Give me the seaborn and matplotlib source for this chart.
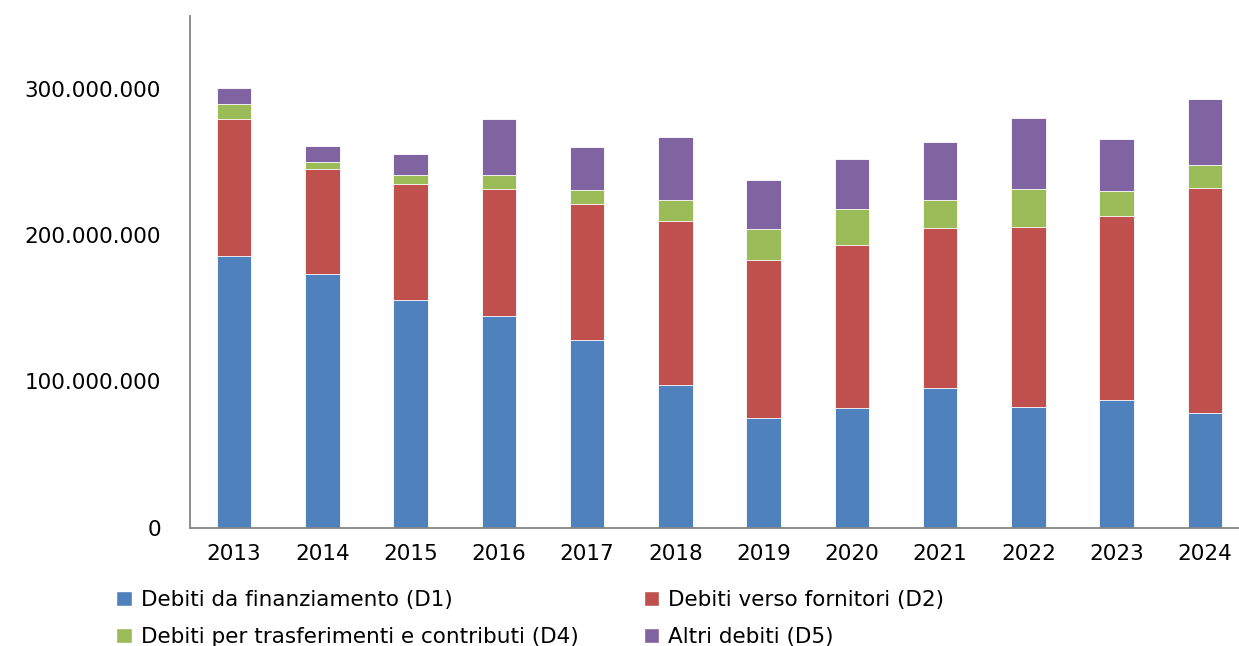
import pandas as pd
import numpy as np
import matplotlib
matplotlib.use('Agg')
import matplotlib.pyplot as plt
import seaborn as sns
from matplotlib.patches import Patch
from matplotlib.ticker import FuncFormatter

years = ['2013', '2014', '2015', '2016', '2017', '2018',
         '2019', '2020', '2021', '2022', '2023', '2024']
# values in millions of euro
d1 = [185.9, 173.4, 155.6, 144.4, 128.3, 97.7, 75.0, 81.8, 95.5, 82.2, 87.3, 78.6]
d2 = [93.7, 72.2, 79.3, 87.5, 93.4, 111.7, 108.2, 111.2, 109.3, 123.3, 125.7, 153.6]
d4 = [10.4, 4.8, 6.2, 9.4, 9.3, 14.8, 21.0, 25.0, 19.4, 26.0, 17.3, 15.7]
d5 = [11.0, 10.9, 14.5, 38.0, 29.4, 42.8, 33.5, 34.2, 39.4, 48.7, 35.4, 45.1]

labels = ['Debiti da finanziamento (D1)', 'Debiti verso fornitori (D2)',
          'Debiti per trasferimenti e contributi (D4)', 'Altri debiti (D5)']
colors = ['#4F81BD', '#C0504D', '#9BBB59', '#8064A2']

df = pd.DataFrame({'Anno': years, 'D1': d1, 'D2': d2, 'D4': d4, 'D5': d5})
df[['D1', 'D2', 'D4', 'D5']] *= 1e6
# cumulative heights, drawn from the top layer down
df['c1'] = df['D1']
df['c2'] = df['c1'] + df['D2']
df['c4'] = df['c2'] + df['D4']
df['c5'] = df['c4'] + df['D5']

sns.set_theme(style='white')
plt.rcParams['font.family'] = ['DejaVu Sans']

fig = plt.figure(figsize=(12.39, 6.46), dpi=100)
ax = fig.add_axes([190 / 1239, 1 - 527.5 / 646, 1059 / 1239, 511.5 / 646])

for col, c in zip(['c5', 'c4', 'c2', 'c1'], colors[::-1]):
    sns.barplot(data=df, x='Anno', y=col, color=c, width=0.39, ax=ax,
                saturation=1, edgecolor='white', linewidth=0.6)

ax.set_ylim(0, 350e6)
ax.set_yticks([0, 100e6, 200e6, 300e6])
ax.yaxis.set_major_formatter(FuncFormatter(
    lambda v, p: '0' if v == 0 else f'{int(v):,}'.replace(',', '.')))
ax.set_xlabel('')
ax.set_ylabel('')
ax.tick_params(axis='y', length=0, pad=21, labelsize=15.5, colors='black')
ax.tick_params(axis='x', length=0, pad=12, labelsize=15.5, colors='black')

for s in ['top', 'right']:
    ax.spines[s].set_visible(False)
for s in ['left', 'bottom']:
    ax.spines[s].set_color('#868686')
    ax.spines[s].set_linewidth(1.3)

handles = [Patch(facecolor=c) for c in colors]
order = [0, 2, 1, 3]
leg = fig.legend([handles[i] for i in order], [labels[i] for i in order],
                 ncol=2, loc='upper left', bbox_to_anchor=(0.094, 0.086),
                 frameon=False, fontsize=15.5, borderpad=0, borderaxespad=0,
                 handlelength=0.7, handleheight=0.7, handletextpad=0.45,
                 columnspacing=3.0, labelspacing=0.78)
for t in leg.get_texts():
    t.set_color('black')

fig.savefig('out.png', dpi=100)
